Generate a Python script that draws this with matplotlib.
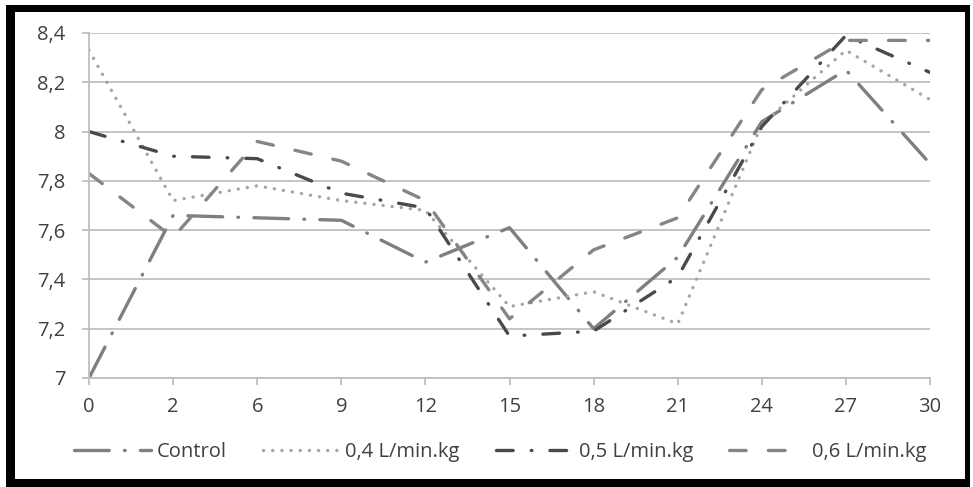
import matplotlib
matplotlib.use("Agg")
import matplotlib.pyplot as plt
from matplotlib.patches import Rectangle
from matplotlib.ticker import FuncFormatter

# datos
dias = ['0', '2', '6', '9', '12', '15', '18', '21', '24', '27', '30']
control = [7.00, 7.66, 7.65, 7.64, 7.47, 7.61, 7.20, 7.49, 8.04, 8.25, 7.87]
flujo_04 = [8.33, 7.72, 7.78, 7.72, 7.68, 7.29, 7.35, 7.22, 8.03, 8.33, 8.13]
flujo_05 = [8.00, 7.90, 7.89, 7.75, 7.69, 7.17, 7.19, 7.41, 8.02, 8.39, 8.24]
flujo_06 = [7.83, 7.57, 7.96, 7.88, 7.72, 7.24, 7.52, 7.65, 8.17, 8.37, 8.37]
nombres = ['Control', '0,4 L/min.kg', '0,5 L/min.kg', '0,6 L/min.kg']

plt.rcParams['font.family'] = ['Open Sans', 'DejaVu Sans']
plt.rcParams['lines.scale_dashes'] = False

W, H = 973, 487
fig = plt.figure(figsize=(W / 100, H / 100), dpi=100)

def caja(x0, y0, x1, y1):
    # pixeles (origen arriba-izquierda) -> fraccion de figura
    return [x0 / W, 1 - y1 / H, (x1 - x0) / W, (y1 - y0) / H]

ax = fig.add_axes(caja(89, 33, 930, 378))

x = range(len(dias))
estilos = [
    dict(color='#7f7f7f', linestyle=(0, (25, 11, 0.5, 11))),
    dict(color='#a5a5a5', linestyle=(0, (0.1, 6.5))),
    dict(color='#4a4a4a', linestyle=(0, (12, 13, 0.5, 13))),
    dict(color='#858585', linestyle=(0, (12, 16))),
]
series = [control, flujo_04, flujo_05, flujo_06]
for datos, nombre, est in zip(series, nombres, estilos):
    ax.plot(x, datos, lw=2.4, dash_capstyle='round', solid_capstyle='round',
            label=nombre, **est)

ax.set_xlim(0, len(dias) - 1)
ax.set_ylim(7, 8.4)
ax.set_yticks([7, 7.2, 7.4, 7.6, 7.8, 8, 8.2, 8.4])
ax.yaxis.set_major_formatter(FuncFormatter(lambda v, p: ('%g' % round(v, 1)).replace('.', ',')))
ax.set_xticks(list(x))
ax.set_xticklabels(dias)
ax.grid(axis='y', color='#bfbfbf', lw=1.3)
ax.set_axisbelow(True)
for s in ['top', 'right']:
    ax.spines[s].set_visible(False)
for s in ['left', 'bottom']:
    ax.spines[s].set_color('#bfbfbf')
    ax.spines[s].set_linewidth(1.3)
ax.tick_params(axis='y', length=5, color='#bfbfbf', width=1.3, pad=12,
               labelsize=14.5, labelcolor='#404040')
ax.tick_params(axis='x', length=5, color='#bfbfbf', width=1.3, pad=9,
               labelsize=14.5, labelcolor='#404040')

leg = fig.legend(loc='center', bbox_to_anchor=(0.514, 1 - 452 / H), ncol=4,
                 frameon=False, fontsize=14.5, handlelength=3.8, handletextpad=0.3,
                 columnspacing=1.8, labelcolor='#404040')

# marco negro alrededor
for r in [caja(6, 5, 15, 487), caja(6, 5, 970, 12), caja(965, 5, 970, 487),
          caja(6, 479, 970, 487)]:
    fig.add_artist(Rectangle((r[0], r[1]), r[2], r[3], transform=fig.transFigure,
                             color='black', lw=0))

fig.savefig('out.png', dpi=100)
